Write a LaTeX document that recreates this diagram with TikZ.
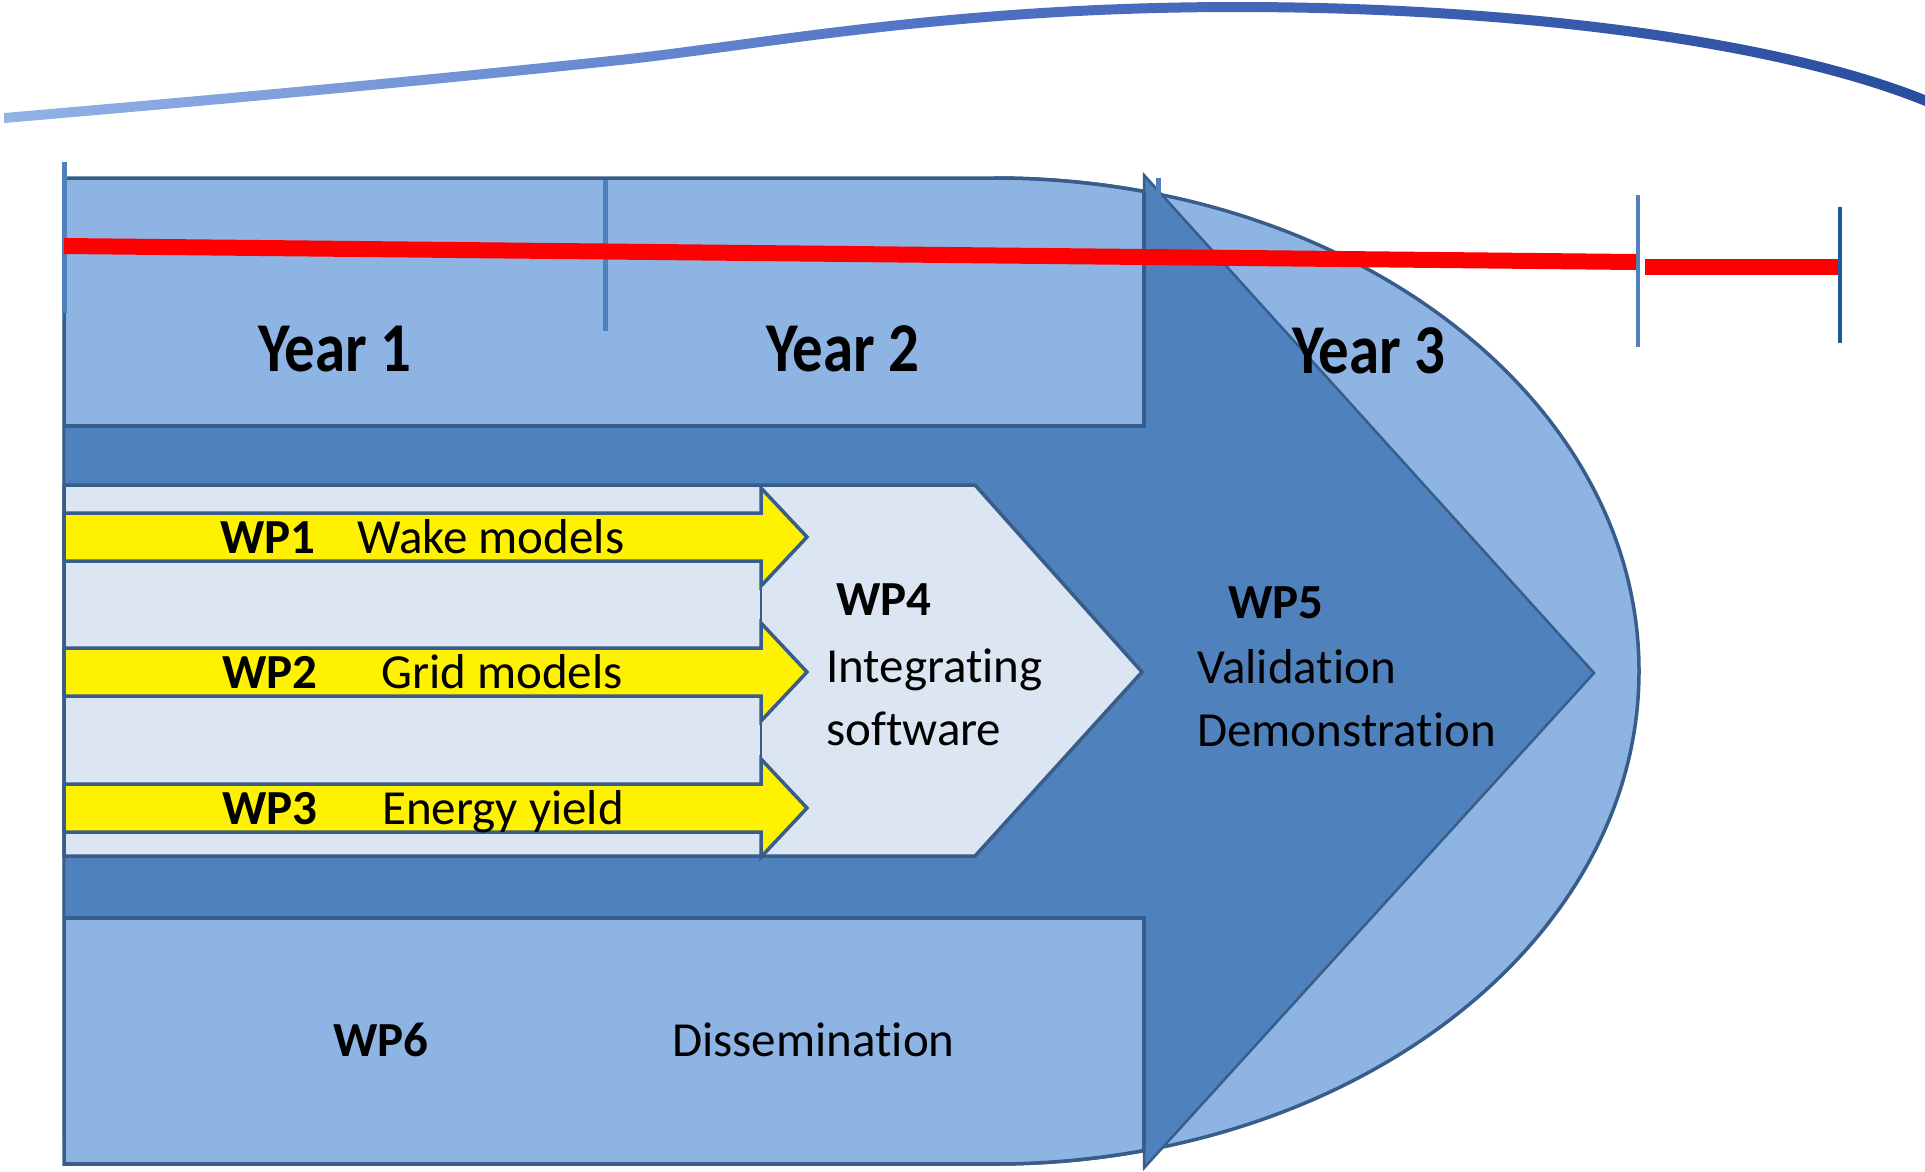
\documentclass[tikz,border=0pt]{standalone}
\usepackage{fontspec}
\setmainfont[Ligatures=CommonOff]{Carlito}
\usepackage{graphicx}
\definecolor{outerblue}{HTML}{8EB4E3}
\definecolor{arrowblue}{HTML}{4F81BD}
\definecolor{edgeblue}{HTML}{385D8A}
\definecolor{paleblue}{HTML}{DCE6F2}
\definecolor{tickblue}{HTML}{4F81BD}
\definecolor{tickdark}{HTML}{1F5A9E}
\definecolor{curveL}{HTML}{92B3E6}
\definecolor{curveM}{HTML}{5070C4}
\definecolor{curveR}{HTML}{2A4E9E}
\tikzset{
  wp/.style={inner sep=0pt, anchor=base west, font=\fontsize{49}{58}\selectfont},
  wpb/.style={inner sep=0pt, anchor=base west, font=\fontsize{49}{58}\selectfont\bfseries},
  yr/.style={inner sep=0pt, anchor=base, font=\fontsize{70}{80}\selectfont\bfseries},
  band/.style={fill=outerblue, draw=edgeblue, line width=4pt},
  yarrow/.style={fill=yellow, draw=edgeblue, line width=3.5pt, line join=miter},
  tickline/.style={draw=tickblue, line width=5pt},
  redbar/.style={draw=red, line width=16pt}
}
\begin{document}
\begin{tikzpicture}[x=1pt,y=-1pt]
\useasboundingbox (0,0) rectangle (1925,1171);
\fill[white] (0,0) rectangle (1925,1171);

% top swoosh
\shade[left color=curveL, right color=curveR, middle color=curveM]
  (4,113) .. controls (250,92) and (450,73) .. (620,55)
  .. controls (760,40) and (950,2) .. (1237,2)
  .. controls (1500,2) and (1770,33) .. (1925,95)
  -- (1925,106) .. controls (1770,43) and (1500,12) .. (1237,12)
  .. controls (950,12) and (760,50) .. (620,65)
  .. controls (450,83) and (250,102) .. (4,123) -- cycle;

% outer rounded shape
\path[fill=outerblue, draw=edgeblue, line width=3.5pt]
  (64,178) -- (994,178) arc[start angle=-90, end angle=90, x radius=645, y radius=493]
  -- (64,1164) -- cycle;

% WP5 big arrow
\path[fill=arrowblue, draw=edgeblue, line width=2.5pt, line join=miter]
  (64,200) -- (1144,200) -- (1144,175) -- (1594,673) -- (1144,1168)
  -- (1144,1140) -- (64,1140) -- cycle;

% year band and WP6 band, clipped by outer shape
\begin{scope}
  \clip (64,178) -- (994,178) arc[start angle=-90, end angle=90, x radius=645, y radius=493]
    -- (64,1164) -- cycle;
  \path[band] (64,178) rectangle (1144,426);
  \path[band] (64,918) rectangle (1144,1164);
\end{scope}
\draw[edgeblue, line width=3.5pt] (994,178) arc[start angle=-90, end angle=-76.5, x radius=645, y radius=493];
\draw[edgeblue, line width=3.5pt] (994,1164) arc[start angle=90, end angle=76.5, x radius=645, y radius=493];

% WP4 light chevron band
\path[fill=paleblue, draw=edgeblue, line width=3.5pt, line join=miter]
  (64,485) -- (975,485) -- (1142,672) -- (975,856) -- (64,856) -- cycle;
\draw[edgeblue, line width=1.5pt] (761,487) -- (761,854);

% yellow arrows WP1-WP3
\foreach \c in {537,672,808}{
  \path[yarrow] (64,\c-24) -- (761,\c-24) -- (761,\c-49) -- (807,\c)
    -- (761,\c+49) -- (761,\c+24) -- (64,\c+24) -- cycle;
}

% timeline ticks
\path[tickline] (64,162) -- (64,313);
\path[tickline] (605,180) -- (605,331);
\path[tickline] (1158,178) -- (1158,330);
\path[tickline, line width=4pt] (1638,195) -- (1638,347);
\path[draw=tickdark, line width=4.5pt] (1840,207) -- (1840,343);

% red bars
\path[redbar] (64,246) -- (1636,262);
\path[redbar] (1645,267) -- (1838,267);

% texts
\node[yr] (y1) at (335,371) {\scalebox{0.87}[1]{Year 1}};
\node[yr] (y2) at (843,371) {\scalebox{0.87}[1]{Year 2}};
\node[yr] (y3) at (1369,373) {\scalebox{0.87}[1]{Year 3}};

\node[wpb] (wp1) at (220,553) {WP1};
\node[wp] (wp1t) at (357,553) {Wake models};
\node[wpb] (wp2) at (222,688) {WP2};
\node[wp] (wp2t) at (381,688) {Grid models};
\node[wpb] (wp3) at (222,824) {WP3};
\node[wp] (wp3t) at (382,824) {Energy yield};

\node[wpb] (wp4) at (836,615) {WP4};
\node[wp] (wp4a) at (826,682) {Integrating};
\node[wp] (wp4b) at (826,745) {software};

\node[wpb] (wp5) at (1228,618) {WP5};
\node[wp] (wp5a) at (1197,683) {Validation};
\node[wp] (wp5b) at (1197,746) {Demonstration};

\node[wpb] (wp6) at (333,1056) {WP6};
\node[wp] (wp6t) at (672,1056) {Dissemination};
\end{tikzpicture}
\end{document}
